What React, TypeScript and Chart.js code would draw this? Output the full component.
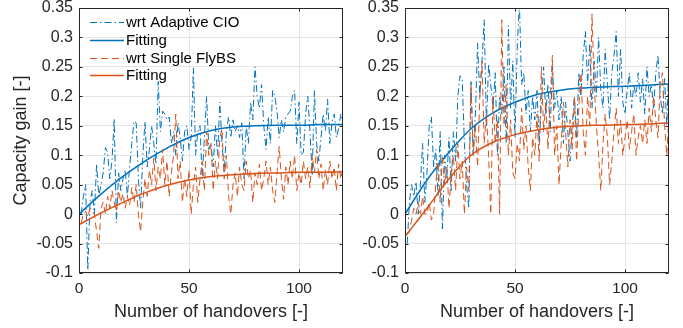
import React, { useEffect, useRef } from "react";
import { Chart, registerables } from "chart.js";

Chart.register(...registerables);

// ---------- data ----------
const handovers: number[] = Array.from({ length: 120 }, (_, i) => i + 1);
const fitX: number[] = [0, 10, 20, 30, 40, 50, 60, 70, 80, 90, 100, 110, 120];
const xTicks: number[] = [0, 50, 100];
const yTicks: number[] = [-0.1, -0.05, 0, 0.05, 0.1, 0.15, 0.2, 0.25, 0.3, 0.35];

const seriesLabels: string[] = ["wrt Adaptive CIO", "Fitting", "wrt Single FlyBS", "Fitting"];

const leftAdaptive: number[] = [
  0.0, 0.03, 0.05, -0.095, 0.02, 0.04, 0.0, 0.085, 0.03, 0.05,
  0.07, 0.113, 0.105, 0.06, 0.09, 0.162, -0.015, 0.07, 0.04, 0.06,
  0.075, 0.03, 0.08, 0.12, 0.158, 0.155, 0.06, 0.01, 0.1, 0.157,
  0.08, 0.11, 0.15, 0.12, 0.085, 0.225, 0.14, 0.175, 0.17, 0.16,
  0.165, 0.12, 0.14, 0.1, 0.155, 0.13, 0.09, 0.14, 0.15, 0.11,
  0.13, 0.248, 0.1, 0.14, 0.15, 0.06, 0.13, 0.2, 0.11, 0.12,
  0.08, 0.15, 0.1, 0.19, 0.12, 0.07, 0.14, 0.165, 0.13, 0.16,
  0.14, 0.15, 0.13, 0.155, 0.06, 0.15, 0.12, 0.19, 0.16, 0.25,
  0.2, 0.18, 0.22, 0.15, 0.11, 0.165, 0.12, 0.21, 0.2, 0.175,
  0.13, 0.16, 0.14, 0.165, 0.17, 0.175, 0.2, 0.21, 0.12, 0.19,
  0.1, 0.105, 0.17, 0.2, 0.14, 0.065, 0.21, 0.12, 0.09, 0.13,
  0.17, 0.14, 0.195, 0.12, 0.155, 0.17, 0.13, 0.145, 0.17, 0.155,
];
const leftSingle: number[] = [
  -0.015, 0.0, 0.005, -0.005, 0.01, 0.005, 0.0, -0.03, -0.058, 0.01,
  0.02, 0.0, 0.03, 0.01, 0.04, 0.02, 0.005, 0.04, 0.02, 0.035,
  0.01, 0.03, 0.015, 0.045, 0.02, 0.05, 0.0, -0.03, 0.02, 0.06,
  0.03, 0.075, 0.05, 0.095, 0.04, 0.08, 0.06, 0.11, 0.05, 0.09,
  0.03, 0.07, 0.1, 0.17, 0.06, 0.09, 0.02, 0.06, 0.03, 0.075,
  0.0, 0.05, 0.08, 0.02, 0.06, 0.09, 0.04, 0.14, 0.1, 0.12,
  0.04, 0.09, 0.06, 0.13, 0.145, 0.06, 0.1, 0.03, 0.0, 0.05,
  0.07, 0.03, 0.08, 0.05, 0.04, 0.09, 0.06, 0.075, 0.02, 0.07,
  0.05, 0.085, 0.04, 0.06, 0.09, 0.05, 0.08, 0.04, 0.02, 0.07,
  0.115, 0.06, 0.025, 0.08, 0.05, 0.09, 0.06, 0.1, 0.04, 0.07,
  0.05, 0.09, 0.06, 0.08, 0.045, 0.1, 0.07, 0.11, 0.06, 0.085,
  0.04, 0.075, 0.05, 0.09, 0.06, 0.08, 0.04, 0.085, 0.06, 0.08,
];
const leftAdaptiveFit: number[] = [0, 0.034, 0.064, 0.09, 0.112, 0.13, 0.142, 0.148, 0.15, 0.151, 0.151, 0.152, 0.152];
const leftSingleFit: number[] = [-0.018, 0.002, 0.02, 0.036, 0.049, 0.058, 0.064, 0.067, 0.069, 0.07, 0.071, 0.071, 0.072];

const rightAdaptive: number[] = [
  -0.05, 0.02, 0.05, 0.03, 0.055, 0.0, 0.05, 0.12, 0.02, 0.07,
  0.15, 0.165, 0.08, 0.11, 0.03, 0.14, -0.025, 0.1, 0.06, 0.13,
  0.04, 0.14, 0.09, 0.2, 0.235, 0.23, 0.12, 0.05, 0.01, 0.225,
  0.1, 0.17, 0.29, 0.2, 0.26, 0.33, 0.15, 0.255, 0.22, 0.18,
  0.24, 0.1, 0.2, 0.17, 0.25, 0.12, 0.32, 0.18, 0.26, 0.13,
  0.28, 0.36, 0.22, 0.24, 0.17, 0.21, 0.14, 0.2, 0.16, 0.21,
  0.12, 0.19, 0.25, 0.17, 0.22, 0.14, 0.25, 0.18, 0.21, 0.16,
  0.2, 0.12, 0.19, 0.14, 0.09, 0.15, 0.2, 0.13, 0.24, 0.2,
  0.27, 0.31, 0.22, 0.29, 0.18, 0.26, 0.2, 0.3, 0.21, 0.18,
  0.28, 0.22, 0.16, 0.24, 0.27, 0.31, 0.2, 0.28, 0.19, 0.17,
  0.21, 0.24, 0.18, 0.22, 0.2, 0.24, 0.19, 0.23, 0.17, 0.25,
  0.2, 0.22, 0.18, 0.24, 0.27, 0.2, 0.17, 0.23, 0.15, 0.26,
];
const rightSingle: number[] = [
  -0.035, -0.03, -0.01, 0.01, 0.0, 0.02, 0.0, 0.03, 0.0, 0.0,
  0.02, -0.01, 0.0, 0.05, 0.09, 0.02, 0.1, 0.05, 0.08, 0.01,
  0.07, 0.1, 0.04, 0.12, 0.06, 0.09, 0.0, 0.08, 0.04, 0.22,
  0.1, 0.15, 0.08, 0.2, 0.26, 0.12, 0.17, 0.1, 0.0, 0.2,
  0.12, 0.16, 0.0, 0.33, 0.15, 0.22, 0.1, 0.16, 0.07, 0.06,
  0.12, 0.09, 0.18, 0.11, 0.15, 0.08, 0.04, 0.13, 0.1, 0.17,
  0.09, 0.25, 0.14, 0.19, 0.11, 0.2, 0.27, 0.1, 0.15, 0.05,
  0.12, 0.19, 0.14, 0.08, 0.16, 0.11, 0.2, 0.09, 0.18, 0.24,
  0.14, 0.1, 0.2, 0.15, 0.34, 0.22, 0.15, 0.1, 0.04, 0.12,
  0.17, 0.13, 0.05, 0.09, 0.14, 0.18, 0.12, 0.16, 0.1, 0.13,
  0.16, 0.11, 0.14, 0.17, 0.1, 0.13, 0.15, 0.12, 0.16, 0.12,
  0.18, 0.14, 0.2, 0.16, 0.13, 0.22, 0.24, 0.15, 0.1, 0.17,
];
const rightAdaptiveFit: number[] = [0, 0.058, 0.105, 0.145, 0.172, 0.19, 0.203, 0.21, 0.214, 0.216, 0.217, 0.219, 0.221];
const rightSingleFit: number[] = [-0.038, 0.01, 0.06, 0.1, 0.122, 0.135, 0.143, 0.148, 0.15, 0.151, 0.152, 0.153, 0.155];

// ---------- styling ----------
const BLUE = "#0072BD";
const ORANGE = "#D95319";
const AXIS = "#262626";
const GRID = "#e4e4e4";
const FONT = '"Liberation Sans", Arial, Helvetica, sans-serif';

const boxPlugin = {
  id: "matlabBox",
  afterDraw(chart: any) {
    const { ctx, chartArea } = chart;
    const { left, right, top, bottom } = chartArea;
    ctx.save();
    ctx.strokeStyle = AXIS;
    ctx.lineWidth = 1;
    ctx.setLineDash([]);
    const L = Math.round(left) + 0.5;
    const R = Math.round(right) - 0.5;
    const T = Math.round(top) + 0.5;
    const B = Math.round(bottom) - 0.5;
    ctx.strokeRect(L, T, R - L, B - T);
    const xs = chart.scales.x;
    const ys = chart.scales.y;
    ctx.beginPath();
    xTicks.forEach((v) => {
      const px = Math.round(xs.getPixelForValue(v)) + 0.5;
      ctx.moveTo(px, B); ctx.lineTo(px, B - 3);
      ctx.moveTo(px, T); ctx.lineTo(px, T + 3);
    });
    yTicks.forEach((v) => {
      const py = Math.round(ys.getPixelForValue(v)) + 0.5;
      ctx.moveTo(L, py); ctx.lineTo(L + 3, py);
      ctx.moveTo(R, py); ctx.lineTo(R - 3, py);
    });
    ctx.stroke();
    ctx.restore();
  },
};

const legendPlugin = {
  id: "insideLegend",
  afterDraw(chart: any) {
    const { ctx, chartArea } = chart;
    ctx.save();
    chart.data.datasets.forEach((ds: any, i: number) => {
      const y = Math.round(chartArea.top + 14 + i * 17.8) + 0.5;
      ctx.strokeStyle = ds.borderColor;
      ctx.lineWidth = ds.borderWidth;
      ctx.setLineDash(ds.borderDash || []);
      ctx.beginPath();
      ctx.moveTo(chartArea.left + 11, y);
      ctx.lineTo(chartArea.left + 45, y);
      ctx.stroke();
      ctx.setLineDash([]);
      ctx.fillStyle = "#000";
      ctx.font = `15px ${FONT}`;
      ctx.textBaseline = "middle";
      ctx.textAlign = "left";
      ctx.fillText(ds.label, chartArea.left + 47, y);
    });
    ctx.restore();
  },
};

function fmt(v: number): string {
  return String(Number(v.toFixed(2)));
}

function makeConfig(
  adaptive: number[],
  single: number[],
  adaptiveFit: number[],
  singleFit: number[],
  yAxisWidth: number,
  rightPad: number,
  showYTitle: boolean,
  withLegend: boolean
): any {
  const pts = (vals: number[], xs: number[]) => vals.map((v, i) => ({ x: xs[i], y: v }));
  return {
    type: "line",
    data: {
      datasets: [
        {
          label: seriesLabels[0],
          data: pts(adaptive, handovers),
          borderColor: BLUE,
          borderWidth: 1,
          borderDash: [7, 3, 1.5, 3],
          pointRadius: 0,
          tension: 0,
          order: 3,
        },
        {
          label: seriesLabels[1],
          data: pts(adaptiveFit, fitX),
          borderColor: BLUE,
          borderWidth: 1.5,
          pointRadius: 0,
          cubicInterpolationMode: "monotone",
          order: 2,
        },
        {
          label: seriesLabels[2],
          data: pts(single, handovers),
          borderColor: ORANGE,
          borderWidth: 1,
          borderDash: [7, 4],
          pointRadius: 0,
          tension: 0,
          order: 1,
        },
        {
          label: seriesLabels[3],
          data: pts(singleFit, fitX),
          borderColor: ORANGE,
          borderWidth: 1.5,
          pointRadius: 0,
          cubicInterpolationMode: "monotone",
          order: 0,
        },
      ],
    },
    options: {
      animation: false,
      responsive: false,
      devicePixelRatio: 1,
      layout: { padding: { top: 8, right: rightPad, left: 0, bottom: 0 } },
      plugins: { legend: { display: false }, tooltip: { enabled: false } },
      scales: {
        x: {
          type: "linear",
          min: 0,
          max: 120,
          afterBuildTicks: (s: any) => { s.ticks = xTicks.map((v) => ({ value: v })); },
          afterFit: (s: any) => { s.height = 55; s.paddingLeft = 0; s.paddingRight = 0; },
          grid: { color: GRID, drawTicks: false },
          border: { display: false },
          ticks: { color: AXIS, font: { family: FONT, size: 15.5 }, padding: 6, maxRotation: 0 },
          title: {
            display: true,
            text: "Number of handovers [-]",
            color: AXIS,
            font: { family: FONT, size: 18 },
            padding: { top: 0, bottom: 5 },
          },
        },
        y: {
          type: "linear",
          min: -0.1,
          max: 0.35,
          afterBuildTicks: (s: any) => { s.ticks = yTicks.map((v) => ({ value: v })); },
          afterFit: (s: any) => { s.width = yAxisWidth; s.paddingTop = 0; s.paddingBottom = 0; },
          grid: { color: GRID, drawTicks: false },
          border: { display: false },
          ticks: { color: AXIS, font: { family: FONT, size: 16 }, padding: 6, callback: (v: number) => fmt(v) },
          title: {
            display: showYTitle,
            text: "Capacity gain [-]",
            color: AXIS,
            font: { family: FONT, size: 18 },
            padding: { top: 10, bottom: 0 },
          },
        },
      },
    },
    plugins: withLegend ? [boxPlugin, legendPlugin] : [boxPlugin],
  };
}

function Panel(props: { left: number; width: number; cfg: () => any }) {
  const ref = useRef<HTMLCanvasElement | null>(null);
  useEffect(() => {
    if (!ref.current) return;
    const chart = new Chart(ref.current, props.cfg());
    return () => chart.destroy();
  }, []);
  return (
    <canvas
      ref={ref}
      width={props.width}
      height={328}
      style={{ position: "absolute", left: props.left, top: 0, width: props.width, height: 328 }}
    />
  );
}

export default function App() {
  return (
    <div style={{ position: "fixed", left: 0, top: 0, width: 683, height: 328, background: "#fff" }}>
      <Panel
        left={0}
        width={345}
        cfg={() => makeConfig(leftAdaptive, leftSingle, leftAdaptiveFit, leftSingleFit, 79, 2, true, true)}
      />
      <Panel
        left={345}
        width={338}
        cfg={() => makeConfig(rightAdaptive, rightSingle, rightAdaptiveFit, rightSingleFit, 60, 14, false, false)}
      />
    </div>
  );
}
